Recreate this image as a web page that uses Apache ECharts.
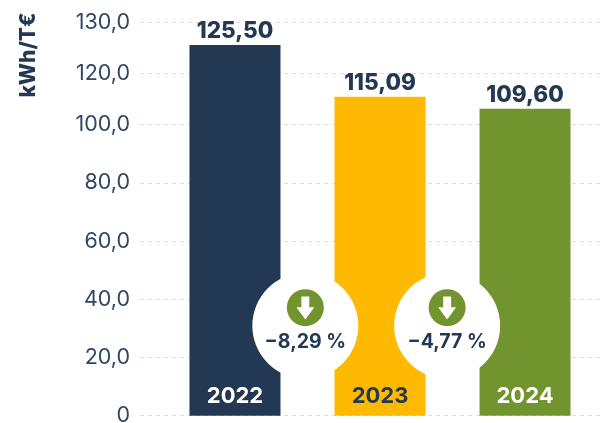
<!DOCTYPE html>
<html><head><meta charset="utf-8">
<style>html,body{margin:0;padding:0;background:#fff}#c{width:605px;height:423px}</style>
<script src="https://cdn.jsdelivr.net/npm/echarts@6/dist/echarts.min.js"></script>
</head><body><div id="c"></div>
<script>
const years = [2022, 2023, 2024];
const valueLabels = ['125,50', '115,09', '109,60'];
const barColors = ['#223853', '#fdba00', '#72942f'];
const yearColors = ['#ffffff', '#223853', '#ffffff'];
// The reference axis is not linear: heights below are read on its drawn scale.
const barHeights = [127.3, 109.6, 105.4];
const tickPositions = [0, 20, 40, 60, 80, 100, 117.5, 135];
const tickLabels = ['0', '20,0', '40,0', '60,0', '80,0', '100,0', '120,0', '130,0'];
const changes = ['\u22128,29 %', '\u22124,77 %'];
const changeX = [2022.485, 2023.463];
const dark = '#223853', green = '#72942f';
const arrow = 'path://M28,0 L72,0 L72,47 L100,47 L50,100 L0,47 L28,47 Z';
const chart = echarts.init(document.getElementById('c'), null, {renderer: 'canvas'});
const font = 'Inter, "Liberation Sans", Arial, sans-serif';
chart.setOption({
  animation: false,
  backgroundColor: '#fff',
  grid: {left: 140, right: 5, top: 22.7, height: 393, outerBoundsMode: 'none'},
  xAxis: {type: 'value', min: 2021.345, max: 2024.517, show: false, splitLine: {show: false}},
  yAxis: {
    type: 'value', min: 0, max: 135,
    axisLine: {show: false},
    axisTick: {show: false, customValues: tickPositions},
    splitLine: {show: true, lineStyle: {color: '#dcdcdc', type: [4, 4], width: 1}},
    axisLabel: {
      customValues: tickPositions, margin: 10, color: '#2f4765',
      fontFamily: font, fontSize: 21.5,
      formatter: v => tickLabels[tickPositions.indexOf(v)]
    }
  },
  graphic: [{
    type: 'text', x: 29, y: 55, rotation: Math.PI / 2, silent: true,
    style: {text: 'kWh/T\u20ac', fill: dark, font: '800 21px ' + font, align: 'center', verticalAlign: 'middle'}
  }],
  series: [{
    type: 'bar', barWidth: 91, z: 2,
    data: years.map((y, i) => ({value: [y, barHeights[i]], itemStyle: {color: barColors[i]}})),
    label: {show: true, position: 'top', distance: 2, color: dark, fontFamily: font, fontWeight: 800, fontSize: 22.5,
      formatter: p => valueLabels[p.dataIndex]}
  }, {
    type: 'scatter', symbolSize: 0, z: 3,
    data: years.map((y, i) => ({value: [y, 6.6], label: {color: yearColors[i]}})),
    label: {show: true, position: 'inside', fontFamily: font, fontWeight: 'bold', fontSize: 22,
      formatter: p => String(years[p.dataIndex])},
    itemStyle: {color: 'transparent', opacity: 1}
  }, {
    type: 'scatter', symbol: 'circle', symbolSize: 106, z: 4,
    itemStyle: {color: '#fff', opacity: 1},
    data: changeX.map(x => [x, 30.9])
  }, {
    type: 'scatter', symbol: 'circle', symbolSize: 37, z: 5,
    itemStyle: {color: green, opacity: 1},
    data: changeX.map(x => [x, 37.1])
  }, {
    type: 'scatter', symbol: arrow, symbolSize: [18, 23], z: 6,
    itemStyle: {color: '#fff', opacity: 1},
    data: changeX.map(x => [x, 37.0])
  }, {
    type: 'scatter', symbolSize: 0, z: 7,
    itemStyle: {color: 'transparent', opacity: 1},
    data: changeX.map(x => [x, 25.2]),
    label: {show: true, position: 'inside', color: dark, fontFamily: font, fontWeight: 'bold', fontSize: 19.5,
      formatter: p => changes[p.dataIndex]}
  }]
});
</script></body></html>
